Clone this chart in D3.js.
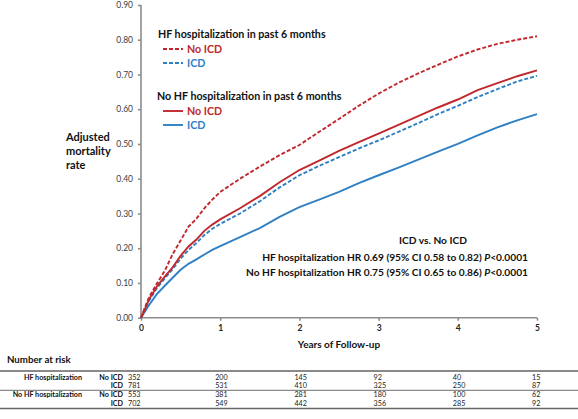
<!DOCTYPE html>
<html><head><meta charset="utf-8">
<script src="https://cdn.jsdelivr.net/npm/d3@7"></script>
<style>body{margin:0;background:#fff}svg{display:block;font-family:Lato,"Open Sans",sans-serif}</style>
</head><body><svg id="c" width="578" height="419"></svg>
<script>
const years = [0,0.05,0.1,0.2,0.3,0.4,0.5,0.6,0.7,0.8,0.9,1.0,1.25,1.5,1.75,2.0,2.25,2.5,2.75,3.0,3.25,3.5,3.75,4.0,4.25,4.5,4.75,5.0];
const hfNoIcd   = [0,0.03,0.058,0.098,0.135,0.183,0.222,0.262,0.285,0.315,0.34,0.362,0.40,0.435,0.468,0.497,0.535,0.572,0.61,0.645,0.676,0.703,0.728,0.752,0.772,0.788,0.80,0.81];
const hfIcd     = [0,0.022,0.048,0.085,0.113,0.14,0.17,0.195,0.215,0.238,0.256,0.27,0.30,0.335,0.375,0.41,0.437,0.462,0.487,0.51,0.535,0.56,0.586,0.61,0.635,0.658,0.68,0.696];
const noHfNoIcd = [0,0.025,0.052,0.09,0.118,0.145,0.178,0.205,0.225,0.25,0.268,0.283,0.315,0.35,0.39,0.425,0.452,0.48,0.505,0.53,0.555,0.58,0.605,0.628,0.655,0.675,0.695,0.712];
const noHfIcd   = [0,0.018,0.036,0.068,0.092,0.115,0.138,0.155,0.168,0.182,0.195,0.206,0.232,0.258,0.29,0.318,0.34,0.362,0.387,0.41,0.432,0.455,0.478,0.50,0.525,0.548,0.568,0.586];
const yTicks = [0,0.1,0.2,0.3,0.4,0.5,0.6,0.7,0.8,0.9];
const xTicks = [0,1,2,3,4,5];
const riskGroups = ["HF hospitalization","","No HF hospitalization",""];
const riskArms = ["No ICD","ICD","No ICD","ICD"];
const riskHfNoIcd = [352,200,145,92,40,15];
const riskHfIcd = [781,531,410,325,250,87];
const riskNoHfNoIcd = [553,381,281,180,100,62];
const riskNoHfIcd = [702,549,442,356,285,92];

const RED = "#c0282d", BLUE = "#2f80c3", AX = "#8c8c8c";
const svg = d3.select("#c");
const x = d3.scaleLinear().domain([0,5]).range([141,537]);
const y = d3.scaleLinear().domain([0,0.9]).range([317.7,5]);

// axes
const gy = svg.append("g").attr("transform","translate(141,0)")
  .call(d3.axisLeft(y).tickValues(yTicks).tickSize(3).tickPadding(5).tickFormat(d3.format(".2f")));
gy.selectAll("path,line").attr("stroke",AX).attr("stroke-width",1.6);
gy.select(".domain").attr("d","M0,5V317.7");
gy.selectAll("text").attr("font-size",8.5).attr("fill","#404040").attr("font-family","Lato,sans-serif");
const gx = svg.append("g").attr("transform","translate(0,317.7)")
  .call(d3.axisBottom(x).tickValues(xTicks).tickSize(3).tickPadding(4).tickFormat(d3.format("d")));
gx.selectAll("path,line").attr("stroke",AX).attr("stroke-width",1.6);
gx.select(".domain").attr("d","M141,0H537");
gx.selectAll("text").attr("font-size",8.5).attr("font-weight","bold").attr("fill","#222").attr("font-family","Lato,sans-serif");

// curves
const line = d3.line().x((d,i)=>x(years[i])).y(d=>y(d));
const series = [
  {v:noHfIcd, c:BLUE, dash:null},
  {v:hfIcd, c:BLUE, dash:"4,2"},
  {v:noHfNoIcd, c:RED, dash:null},
  {v:hfNoIcd, c:RED, dash:"4,2"}
];
series.forEach(s=>{
  svg.append("path").attr("d",line(s.v)).attr("fill","none").attr("stroke",s.c)
    .attr("stroke-width",1.9).attr("stroke-dasharray",s.dash);
});

const txt = (xx,yy,t,o={})=>svg.append("text").attr("x",xx).attr("y",yy).text(t)
  .attr("font-size",o.fs||11).attr("font-weight",o.fw||"bold").attr("fill",o.fill||"#111")
  .attr("text-anchor",o.a||"start");

// legend
const LF = 10.7;
txt(158,38,"HF hospitalization in past 6 months",{fs:LF});
svg.append("line").attr("x1",163).attr("x2",183).attr("y1",49).attr("y2",49).attr("stroke",RED).attr("stroke-width",1.9).attr("stroke-dasharray","4,2");
txt(187,53,"No ICD",{fill:RED,fs:LF});
svg.append("line").attr("x1",163).attr("x2",183).attr("y1",63).attr("y2",63).attr("stroke",BLUE).attr("stroke-width",1.9).attr("stroke-dasharray","4,2");
txt(187,67,"ICD",{fill:BLUE,fs:LF});
txt(157,100,"No HF hospitalization in past 6 months",{fs:LF});
svg.append("line").attr("x1",163).attr("x2",183).attr("y1",111).attr("y2",111).attr("stroke",RED).attr("stroke-width",1.9);
txt(187,115,"No ICD",{fill:RED,fs:LF});
svg.append("line").attr("x1",163).attr("x2",183).attr("y1",125).attr("y2",125).attr("stroke",BLUE).attr("stroke-width",1.9);
txt(187,129,"ICD",{fill:BLUE,fs:LF});

// y title
txt(66,141,"Adjusted");
txt(66,155,"mortality");
txt(66,169,"rate");
// x title
txt(339,348,"Years of Follow-up",{a:"middle",fs:10});

// annotation
txt(433,244,"ICD vs. No ICD",{a:"middle",fs:10.2});
const ann = [["HF hospitalization HR 0.69 (95% CI 0.58 to 0.82) ",261],["No HF hospitalization HR 0.75 (95% CI 0.65 to 0.86) ",275.5]];
ann.forEach(a=>{
  const t = svg.append("text").attr("x",528).attr("y",a[1]).attr("text-anchor","end")
    .attr("font-size",10.2).attr("font-weight","bold").attr("fill","#111");
  t.append("tspan").text(a[0]);
  t.append("tspan").attr("font-style","italic").text("P");
  t.append("tspan").text("<0.0001");
});

// number at risk
txt(7,363,"Number at risk",{fs:9.7});
const rows = [riskHfNoIcd,riskHfIcd,riskNoHfNoIcd,riskNoHfIcd];
const rowY = [379.5,388.2,397.3,406];
const TF = 7.2;
svg.append("line").attr("x1",0).attr("x2",578).attr("y1",371).attr("y2",371).attr("stroke","#8a8a8a").attr("stroke-width",2);
svg.append("line").attr("x1",0).attr("x2",578).attr("y1",390.4).attr("y2",390.4).attr("stroke","#8a8a8a").attr("stroke-width",1.4);
svg.append("line").attr("x1",0).attr("x2",578).attr("y1",408.5).attr("y2",408.5).attr("stroke","#666").attr("stroke-width",1.3);
rows.forEach((r,i)=>{
  const yy = rowY[i];
  if(riskGroups[i]) txt(82,yy,riskGroups[i],{fs:TF,a:"end"});
  txt(123,yy,riskArms[i],{fs:TF,a:"end"});
  r.forEach((v,j)=>{
    const xx = j===0 ? x(0)-13 : x(xTicks[j])-5;
    txt(xx,yy,v,{fs:TF,fw:"normal",fill:"#222"});
  });
});
</script></body></html>
